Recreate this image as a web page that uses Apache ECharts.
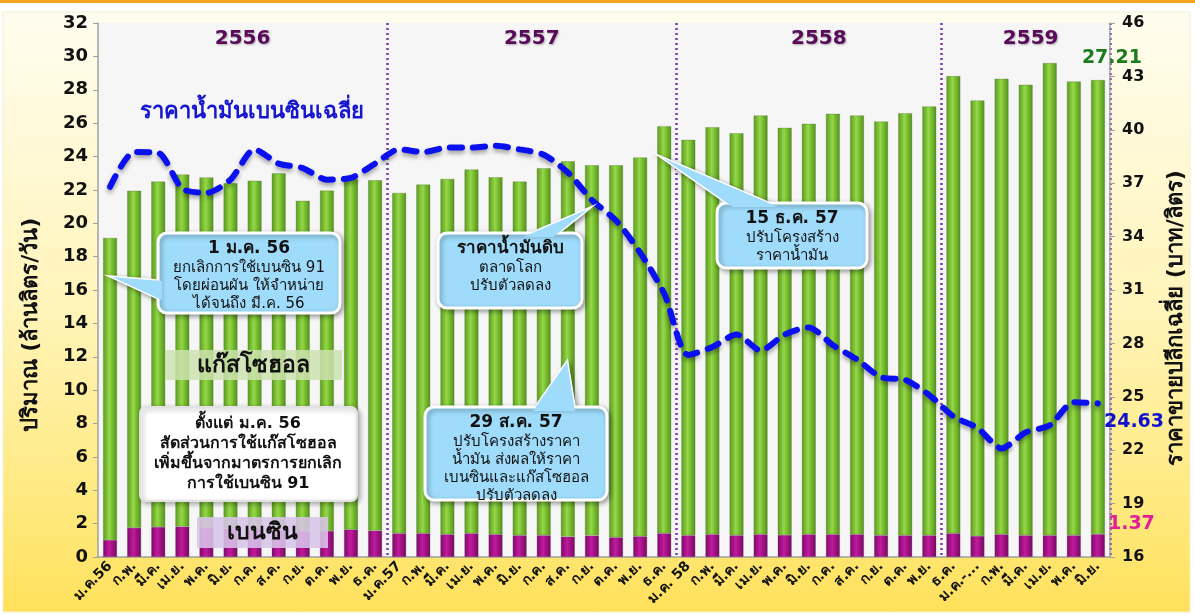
<!DOCTYPE html>
<html>
<head>
<meta charset="utf-8">
<script src="https://cdn.jsdelivr.net/npm/echarts@6/dist/echarts.min.js"></script>
<style>
  html, body { margin: 0; padding: 0; background: #fff; }
  #chart { width: 1195px; height: 615px; }
</style>
</head>
<body>
<div id="chart"></div>
<script>
var months = [
    'ม.ค.56', 'ก.พ.', 'มี.ค.', 'เม.ย.', 'พ.ค.', 'มิ.ย.', 'ก.ค.', 'ส.ค.', 'ก.ย.', 'ต.ค.', 'พ.ย.', 'ธ.ค.',
    'ม.ค.57', 'ก.พ.', 'มี.ค.', 'เม.ย.', 'พ.ค.', 'มิ.ย.', 'ก.ค.', 'ส.ค.', 'ก.ย.', 'ต.ค.', 'พ.ย.', 'ธ.ค.',
    'ม.ค. 58', 'ก.พ.', 'มี.ค.', 'เม.ย.', 'พ.ค.', 'มิ.ย.', 'ก.ค.', 'ส.ค.', 'ก.ย.', 'ต.ค.', 'พ.ย.',
    'ธ.ค.', 'ม.ค.-...', 'ก.พ.', 'มี.ค.', 'เม.ย.', 'พ.ค.', 'มิ.ย.'
];

// ล้านลิตร/วัน
var benzin = [
    1.02, 1.75, 1.80, 1.82, 1.75, 1.70, 1.65, 1.60, 1.55, 1.56, 1.65, 1.58,
    1.42, 1.42, 1.36, 1.42, 1.36, 1.30, 1.30, 1.22, 1.28, 1.18, 1.24, 1.42,
    1.30, 1.36, 1.30, 1.36, 1.32, 1.36, 1.36, 1.36, 1.30, 1.30, 1.30,
    1.42, 1.26, 1.36, 1.30, 1.30, 1.30, 1.37
];

var gasohol = [
    18.1, 20.2, 20.7, 21.1, 21.0, 20.7, 20.9, 21.4, 19.8, 20.4, 21.0, 21.0,
    20.4, 20.9, 21.3, 21.8, 21.4, 21.2, 22.0, 22.5, 22.2, 22.3, 22.7, 24.4,
    23.7, 24.4, 24.1, 25.1, 24.4, 24.6, 25.2, 25.1, 24.8, 25.3, 25.7,
    27.4, 26.1, 27.3, 27.0, 28.3, 27.2, 27.21
];

// บาท/ลิตร
var price = [
    36.8, 38.75, 38.7, 36.7, 36.45, 37.2, 38.9, 38.1, 37.85, 37.2, 37.3, 38.1,
    38.9, 38.75, 39.0, 39.0, 39.1, 38.9, 38.6, 37.6, 36.05, 34.9, 33.1, 30.8,
    27.35, 27.8, 28.5, 27.6, 28.5, 28.9, 27.9, 27.1, 26.1, 25.95, 25.1,
    23.9, 23.25, 22.1, 23.0, 23.4, 24.7, 24.63
];

var years = ['2556', '2557', '2558', '2559'];
var yearStart = [0, 12, 24, 35];
var yearEnd = [11, 23, 34, 41];

var priceBase = 16;   // แกนขวาเริ่มที่ 16
var last = months.length - 1;

var FONT = '"DejaVu Sans", Tahoma, sans-serif';

var myChart = echarts.init(document.getElementById('chart'));

// กล่องข้อความสีฟ้าพร้อมหัวลูกศร
function callout(x, y, w, h, tip, base, lines) {
    var pts = [base[0], tip, base[1]];
    var shadow = {shadowBlur: 5, shadowColor: 'rgba(0,0,0,0.35)', shadowOffsetX: 2, shadowOffsetY: 2};
    return {
        type: 'group',
        children: [
            {type: 'polygon', z: 100, shape: {points: pts},
                style: Object.assign({fill: '#9fdcfb', stroke: '#fff', lineWidth: 3}, shadow)},
            {type: 'rect', z: 101, shape: {x: x, y: y, width: w, height: h, r: 9},
                style: Object.assign({fill: '#9fdcfb', stroke: '#fff', lineWidth: 3}, shadow)},
            {type: 'polygon', z: 102, shape: {points: pts}, style: {fill: '#9fdcfb'}},
            {type: 'text', z: 103, x: x + w / 2, y: y + 6,
                style: {
                    text: '{b|' + lines[0] + '}\n' + lines.slice(1).join('\n'),
                    align: 'center', verticalAlign: 'top', fill: '#111', font: '15px ' + FONT, lineHeight: 18,
                    rich: {b: {font: 'bold 17px ' + FONT, lineHeight: 20, fill: '#111'}}
                }}
        ]
    };
}

var gasoholData = gasohol.map(function (v, i) {
    if (i !== last) return v;
    return {value: v, label: {show: true, position: 'top', offset: [14, -8], formatter: '27.21',
        color: '#1d7a1d', fontSize: 19, fontWeight: 'bold', fontFamily: FONT}};
});

var benzinData = benzin.map(function (v, i) {
    if (i !== last) return v;
    return {value: v, label: {show: true, position: 'right', offset: [-2, -22], formatter: '1.37',
        color: '#e0209a', fontSize: 19, fontWeight: 'bold', fontFamily: FONT}};
});

var yearAreas = years.map(function (y, i) {
    return [{xAxis: yearStart[i], name: y, label: {offset: [i === 2 ? 10 : (i === 3 ? 5 : 0), 0]}}, {xAxis: yearEnd[i]}];
});

var option = {
    animation: false,
    textStyle: {fontFamily: FONT},
    grid: {left: 98, right: 83, top: 23, bottom: 58, show: true, backgroundColor: '#f6f6f6', borderWidth: 0},
    xAxis: {
        type: 'category',
        data: months,
        axisLine: {lineStyle: {color: '#a0a0a0', width: 1.5}},
        axisTick: {lineStyle: {color: '#a0a0a0'}, length: 5},
        axisLabel: {rotate: 45, color: '#111', fontSize: 14, fontWeight: 'bold', margin: 7, interval: 0},
        splitLine: {
            show: true,
            interval: function (index) { return index === 12 || index === 24 || index === 35; },
            lineStyle: {color: '#7a3aa8', width: 2.5, type: [2, 3]}
        }
    },
    yAxis: [
        {
            type: 'value', min: 0, max: 32, interval: 2,
            name: 'ปริมาณ (ล้านลิตร/วัน)', nameLocation: 'middle', nameGap: 56,
            nameTextStyle: {color: '#111', fontSize: 22, fontWeight: 'bold', padding: [0, 0, 0, -70]},
            axisLine: {show: true, lineStyle: {color: '#a0a0a0', width: 1.5}},
            axisTick: {show: true, lineStyle: {color: '#a0a0a0'}},
            axisLabel: {color: '#111', fontSize: 18, fontWeight: 'bold', margin: 10},
            splitLine: {show: false}
        },
        {
            type: 'value', min: 0, max: 30, interval: 3,
            name: 'ราคาขายปลีกเฉลี่ย (บาท/ลิตร)', nameLocation: 'middle', nameGap: 55,
            nameRotate: 90,
            nameTextStyle: {color: '#111', fontSize: 22, fontWeight: 'bold', padding: [0, 0, 0, -56]},
            axisLine: {show: true, lineStyle: {color: '#a0a0a0', width: 1.5}},
            axisTick: {show: true, lineStyle: {color: '#a0a0a0'}},
            axisLabel: {color: '#111', fontSize: 16, fontWeight: 'bold', margin: 12,
                formatter: function (v) { return v + priceBase; }},
            splitLine: {show: false}
        }
    ],
    series: [
        {
            name: 'เบนซิน',
            type: 'bar',
            stack: 'fuel',
            barWidth: 14,
            data: benzinData,
            itemStyle: {
                color: new echarts.graphic.LinearGradient(0, 0, 1, 0, [
                    {offset: 0, color: '#7c0868'},
                    {offset: 0.45, color: '#c21a9e'},
                    {offset: 0.55, color: '#b3168f'},
                    {offset: 1, color: '#760863'}
                ]),
                borderColor: 'rgba(90,60,90,0.5)', borderWidth: 0.6
            },
            markArea: {
                silent: true,
                itemStyle: {color: 'rgba(0,0,0,0)'},
                label: {show: true, position: 'insideTop', distance: 6, color: '#5a0a5a', fontSize: 20, fontWeight: 'bold',
                    fontFamily: FONT,
                    textShadowColor: 'rgba(0,0,0,0.3)', textShadowBlur: 2, textShadowOffsetX: 1, textShadowOffsetY: 1},
                data: yearAreas
            }
        },
        {
            name: 'แก๊สโซฮอล',
            type: 'bar',
            stack: 'fuel',
            barWidth: 14,
            data: gasoholData,
            itemStyle: {
                color: new echarts.graphic.LinearGradient(0, 0, 1, 0, [
                    {offset: 0, color: '#5a9a1c'},
                    {offset: 0.45, color: '#96d84a'},
                    {offset: 0.55, color: '#86cc3a'},
                    {offset: 1, color: '#52901a'}
                ]),
                borderColor: 'rgba(80,110,50,0.5)', borderWidth: 0.6
            }
        },
        {
            name: 'ราคาน้ำมันเบนซินเฉลี่ย',
            type: 'line',
            yAxisIndex: 1,
            smooth: 0.25,
            symbol: 'none',
            z: 5,
            data: price.map(function (v) { return +(v - priceBase).toFixed(2); }),
            lineStyle: {color: '#0a10f0', width: 6, type: [12, 11], cap: 'round',
                shadowColor: 'rgba(0,0,0,0.35)', shadowBlur: 4, shadowOffsetY: 3},
            endLabel: {show: true, formatter: '24.63', color: '#1111cc', fontSize: 19, fontWeight: 'bold',
                fontFamily: FONT, distance: 6, offset: [0, 19]}
        }
    ],
    graphic: [
        {type: 'rect', z: -10, shape: {x: 0, y: 0, width: 1195, height: 615}, style: {fill: '#fff'}},
        {type: 'rect', z: -9, shape: {x: 0, y: 0, width: 1195, height: 3}, style: {fill: '#f5a21e'}},
        {type: 'rect', z: -9, shape: {x: 3, y: 12, width: 1187, height: 600},
            style: {fill: new echarts.graphic.LinearGradient(0, 0, 0, 1, [
                {offset: 0, color: '#fffdf0'}, {offset: 0.5, color: '#fff4b8'}, {offset: 0.9, color: '#ffe670'}, {offset: 1, color: '#ffe05a'}
            ]), stroke: '#f3eed0', lineWidth: 1}},
        {type: 'rect', z: -1, shape: {x: 98, y: 23, width: 1014, height: 24}, style: {fill: '#ffffff'}},
        {type: 'rect', z: -1, shape: {x: 98, y: 23, width: 26, height: 534},
            style: {fill: new echarts.graphic.LinearGradient(0, 0, 1, 0, [
                {offset: 0, color: '#d8d8d8'}, {offset: 1, color: '#f6f6f6'}])}},
        {type: 'text', z: 100, x: 252, y: 112,
            style: {text: 'ราคาน้ำมันเบนซินเฉลี่ย', align: 'center', verticalAlign: 'middle',
                font: 'bold 22px ' + FONT, fill: '#1616d0'}},
        {type: 'rect', z: 100, shape: {x: 165, y: 350, width: 177, height: 30}, style: {fill: 'rgba(205,226,175,0.85)'}},
        {type: 'text', z: 101, x: 253, y: 366, style: {text: 'แก๊สโซฮอล', align: 'center', verticalAlign: 'middle',
            font: 'bold 23px ' + FONT, fill: '#111'}},
        {type: 'rect', z: 100, shape: {x: 197, y: 517, width: 131, height: 31}, style: {fill: 'rgba(216,196,232,0.88)'}},
        {type: 'text', z: 101, x: 262, y: 533, style: {text: 'เบนซิน', align: 'center', verticalAlign: 'middle',
            font: 'bold 23px ' + FONT, fill: '#111'}},
        {type: 'rect', z: 100, shape: {x: 140, y: 407, width: 217, height: 94, r: 6},
            style: {fill: '#fff', stroke: '#e2e2e2', lineWidth: 2, shadowBlur: 5, shadowColor: 'rgba(0,0,0,0.3)', shadowOffsetX: 2, shadowOffsetY: 2}},
        {type: 'text', z: 101, x: 248, y: 414, style: {
            text: 'ตั้งแต่ ม.ค. 56\nสัดส่วนการใช้แก๊สโซฮอล\nเพิ่มขึ้นจากมาตรการยกเลิก\nการใช้เบนซิน 91',
            align: 'center', verticalAlign: 'top', font: 'bold 16px ' + FONT, lineHeight: 20, fill: '#111'}},
        callout(158, 233, 182, 80, [112, 277], [[162, 281], [162, 300]],
            ['1 ม.ค. 56', 'ยกเลิกการใช้เบนซิน 91', 'โดยผ่อนผัน ให้จำหน่าย', 'ได้จนถึง มี.ค. 56']),
        callout(438, 233, 144, 75, [588, 209], [[523, 237], [553, 237]],
            ['ราคาน้ำมันดิบ', 'ตลาดโลก', 'ปรับตัวลดลง']),
        callout(717, 203, 150, 65, [663, 158], [[733, 207], [778, 207]],
            ['15 ธ.ค. 57', 'ปรับโครงสร้าง', 'ราคาน้ำมัน']),
        callout(425, 407, 182, 93, [567, 362], [[533, 411], [575, 411]],
            ['29 ส.ค. 57', 'ปรับโครงสร้างราคา', 'น้ำมัน ส่งผลให้ราคา', 'เบนซินและแก๊สโซฮอล', 'ปรับตัวลดลง'])
    ]
};

myChart.setOption(option);
</script>
</body>
</html>
